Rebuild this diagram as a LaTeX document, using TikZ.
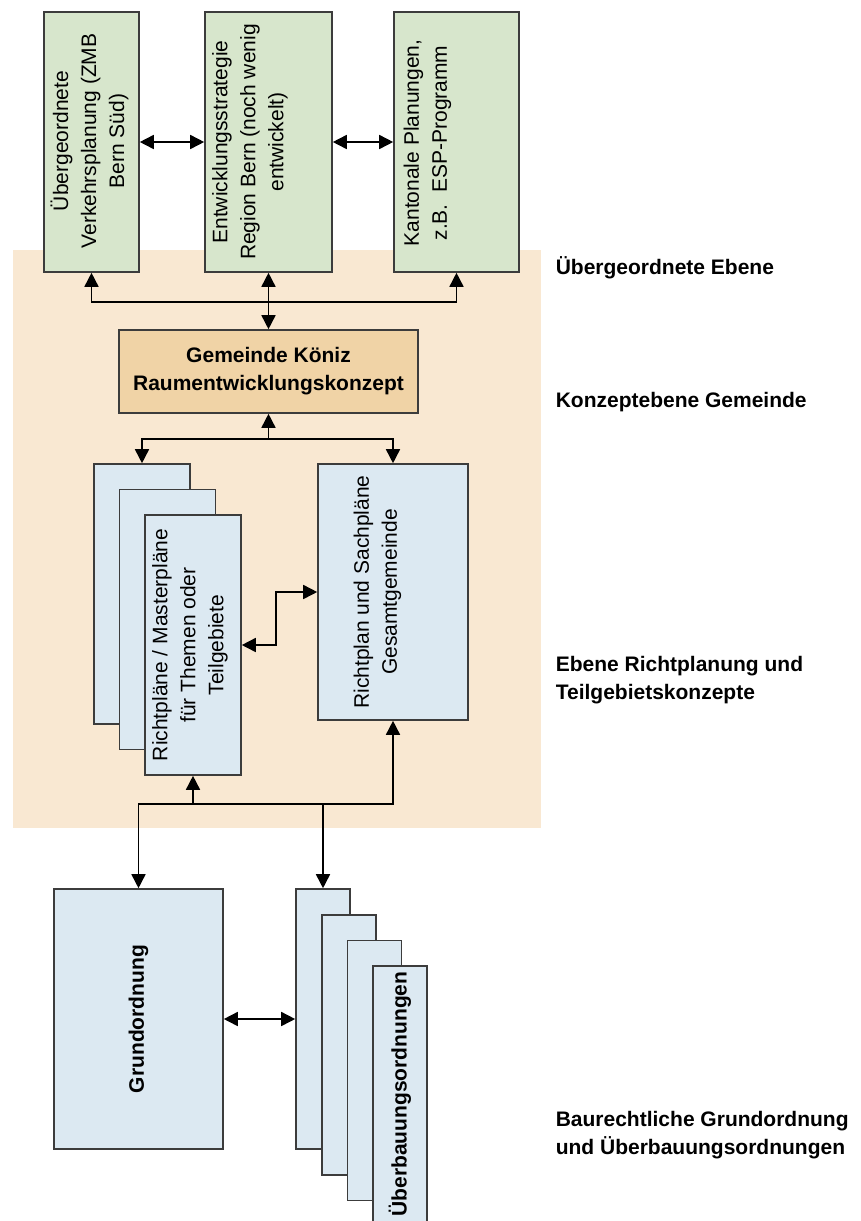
\documentclass[tikz,border=0pt]{standalone}
\usepackage{fontspec}
\setmainfont{Liberation Sans}
\usepackage{tikz}
\usetikzlibrary{arrows.meta}

\definecolor{peach}{RGB}{249,232,210}
\definecolor{boxgreen}{RGB}{215,230,204}
\definecolor{boxblue}{RGB}{220,233,242}
\definecolor{konzept}{RGB}{240,211,166}
\definecolor{rand}{RGB}{60,60,60}

\begin{document}
\begin{tikzpicture}[x=1pt, y=-1pt, >={Triangle[length=14pt,width=14pt]},
    line width=1.6pt,
    plainbox/.style={draw=rand, inner sep=0pt},
    greenbox/.style={plainbox, fill=boxgreen},
    bluebox/.style={plainbox, fill=boxblue},
    konzeptbox/.style={plainbox, fill=konzept},
    boxtext/.style={rotate=90, align=center, inner sep=0pt, font=\fontsize{21}{28}\selectfont},
    boldtext/.style={boxtext, font=\bfseries\fontsize{21}{28}\selectfont},
    ebenetext/.style={anchor=west, align=left, inner sep=0pt, font=\bfseries\fontsize{21}{28}\selectfont}]
    \useasboundingbox (0,0) rectangle (861,1221);
    % Hintergrund
    \fill [peach]    (13,250) rectangle (541,828);
    % obere Ebene
    \node [greenbox, minimum width=95pt, minimum height=260pt]  (verkehr) at (91.5,142) {};
    \node [greenbox, minimum width=127pt, minimum height=260pt] (entw)    at (268.5,142) {};
    \node [greenbox, minimum width=125pt, minimum height=260pt] (kanton)  at (456.5,142) {};
    \node [boxtext] (verkehrtext) at (89.5,141) {Übergeordnete\\Verkehrsplanung (ZMB\\Bern Süd)};
    \node [boxtext] (entwtext)    at (250,142)  {Entwicklungsstrategie\\Region Bern (noch wenig\\entwickelt)};
    \node [boxtext] (kantontext)  at (427.5,143) {Kantonale Planungen,\\z.B.\ \ ESP-Programm};
    % Gemeinde
    \node [konzeptbox, minimum width=299pt, minimum height=83pt, align=center,
           font=\bfseries\fontsize{21}{28}\selectfont] (gemeinde) at (268.5,371.5)
          {Gemeinde Köniz\\Raumentwicklungskonzept};
    % Richtplanung
    \node [bluebox, minimum width=96pt, minimum height=260pt]  (richtback)  at (142,594) {};
    \node [bluebox, minimum width=96pt, minimum height=260pt]  (richtmid)   at (167.5,619.5) {};
    \node [bluebox, minimum width=96pt, minimum height=260pt]  (richtfront) at (193,645) {};
    \node [bluebox, minimum width=150pt, minimum height=256pt] (gesamt)     at (393,592) {};
    \node [boxtext] (richttext)  at (190,645)   {Richtpläne / Masterpläne\\für Themen oder\\Teilgebiete};
    \node [boxtext] (gesamttext) at (377.5,592) {Richtplan und Sachpläne\\Gesamtgemeinde};
    % Grundordnung
    \node [bluebox, minimum width=169pt, minimum height=260pt] (grund) at (138.5,1019) {};
    \node [boldtext] (grundtext) at (138.5,1019) {Grundordnung};
    \foreach \i in {1,...,4}
      \node [bluebox, minimum width=54pt, minimum height=260pt] (ueber\i)
            at ({323+25.7*(\i-1)}, {1019+25.7*(\i-1)}) {};
    \node [boldtext] (uebertext) at (400,1094) {Überbauungsordnungen};
    % Verbindungen
    \coordinate (busa) at (268.5,302);
    \draw [<->] (entw.south) -- (gemeinde.north);
    \draw [->]  (busa) -| (verkehr.south);
    \draw [->]  (busa) -| (kanton.south);
    \draw [<->] (verkehr.east) -- (entw.west);
    \draw [<->] (entw.east) -- (kanton.west);
    \coordinate (busb) at (268.5,439);
    \draw [->]  (busb) -- (gemeinde.south);
    \draw [->]  (busb) -| (richtback.north);
    \draw [->]  (busb) -| (gesamt.north);
    \draw [<->] (richtfront.east) -- ++(34,0) |- (gesamt.west);
    \coordinate (busc) at (193,804);
    \draw [->]  (busc) -- (richtfront.south);
    \draw [->]  (busc) -| (gesamt.south);
    \draw [->]  (busc) -| (grund.north);
    \draw [->]  (ueber1.north |- busc) -- (ueber1.north);
    \draw [<->] (grund.east) -- (ueber1.west);
    % Ebenen
    \node [ebenetext] (ebene1) at (555,268)  {Übergeordnete Ebene};
    \node [ebenetext] (ebene2) at (555,402)  {Konzeptebene Gemeinde};
    \node [ebenetext] (ebene3) at (555,680)  {Ebene Richtplanung und\\Teilgebietskonzepte};
    \node [ebenetext] (ebene4) at (555,1135) {Baurechtliche Grundordnung\\und Überbauungsordnungen};
  \end{tikzpicture}
\end{document}
